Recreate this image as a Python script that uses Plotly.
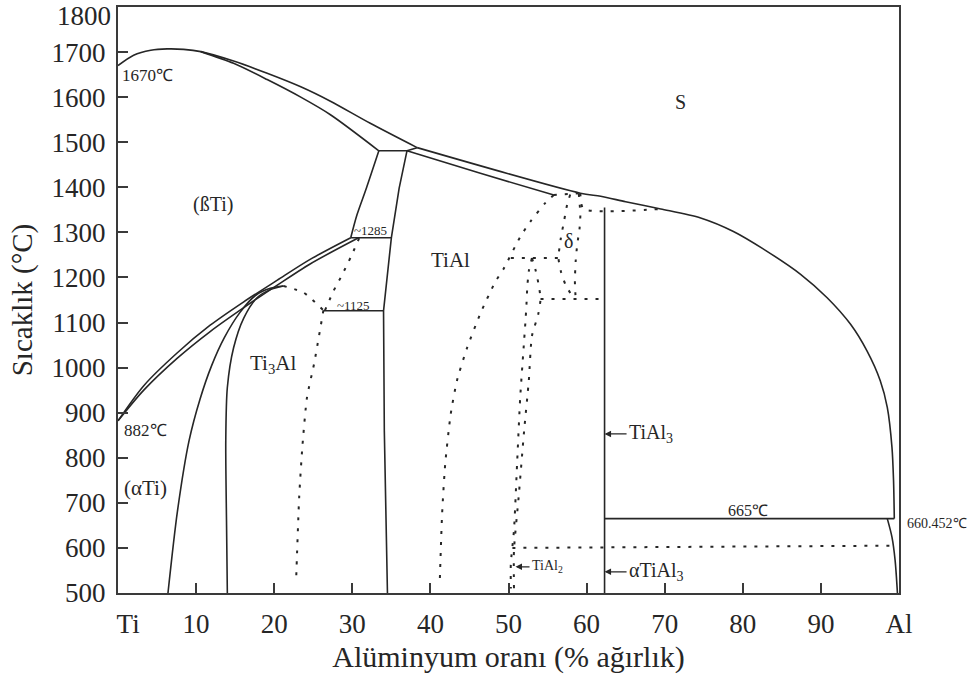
import plotly.graph_objects as go

# ---------------- data (wt.% Al, temperature °C) ----------------
x_tickvals = [0, 10, 20, 30, 40, 50, 60, 70, 80, 90, 100]
x_ticktext = ["\u00a0\u00a0\u00a0Ti", "10", "20", "30", "40", "50", "60", "70", "80", "90", "Al"]
y_tickvals = [500, 600, 700, 800, 900, 1000, 1100, 1200, 1300, 1400, 1500, 1600, 1700, 1800]

# solid lines
liq_left_x = [0, 2.0, 4.2, 6.3, 8.4, 10.6, 14.8, 19.1, 23.4, 27.2, 32.3, 38.3]
liq_left_T = [1670, 1693, 1704, 1707, 1706, 1701, 1680, 1653, 1623, 1591, 1542, 1488]
sol_beta_x = [10.6, 14.8, 19.1, 23.4, 27.2, 33.4]
sol_beta_T = [1701, 1675, 1639, 1600, 1561, 1481]
peri_x = [33.4, 37.0, 38.3]
peri_T = [1481, 1481, 1488]
beta_left_x = [33.4, 31.8, 30.6, 29.8]
beta_left_T = [1481, 1398, 1339, 1288]
alpha_right_x = [37.0, 36.0, 35.0, 34.0, 34.1, 34.5]
alpha_right_T = [1481, 1398, 1288, 1126, 860, 500]
sol_alpha_x = [37.0, 46.4, 55.8]
sol_alpha_T = [1481, 1431, 1383]
liq_right_x = [38.3, 59.2, 61.8, 65.0, 69.5, 74.6, 78.8, 83.1, 87.4, 90.8, 93.8, 95.9, 97.6, 98.5, 99.1, 99.3, 99.4]
liq_right_T = [1488, 1387, 1380, 1368, 1352, 1332, 1302, 1258, 1207, 1155, 1096, 1037, 971, 912, 823, 750, 665]
transus_up_x = [0, 3.3, 7.6, 11.8, 16.1, 20.4, 24.6, 29.8]
transus_up_T = [882, 960, 1033, 1094, 1146, 1194, 1240, 1288]
transus_lo_x = [0, 3.3, 7.6, 11.8, 16.1, 20.4, 24.6, 30.8]
transus_lo_T = [882, 950, 1021, 1080, 1133, 1183, 1230, 1288]
ti3al_out_x = [6.4, 7.6, 9.1, 10.5, 12.0, 13.6, 15.6, 17.6, 19.5, 21.2]
ti3al_out_T = [500, 680, 838, 930, 1005, 1066, 1122, 1160, 1176, 1181]
ti3al_in_x = [14.0, 13.9, 13.8, 14.0, 14.8, 16.1, 17.8, 19.5, 21.2]
ti3al_in_T = [500, 650, 838, 956, 1044, 1110, 1155, 1173, 1181]
line1285_x = [29.8, 35.0]
line1285_T = [1288, 1288]
line1125_x = [26.3, 34.0]
line1125_T = [1126, 1126]
tial3_x = [62.3, 62.3]
tial3_T = [1355, 500]
line665_x = [62.3, 99.4]
line665_T = [665, 665]
al_solvus_x = [98.5, 99.1, 99.5, 99.8]
al_solvus_T = [665, 624, 573, 500]

# dotted lines
d_ti3al_top_x = [21.2, 23.8, 26.3]
d_ti3al_top_T = [1181, 1166, 1127]
d_ti3al_right_x = [26.3, 25.1, 24.2, 23.6, 23.2, 22.8]
d_ti3al_right_T = [1127, 1008, 934, 823, 713, 525]
d_alpha_x = [26.5, 27.6, 28.7, 29.8, 30.9]
d_alpha_T = [1127, 1170, 1206, 1245, 1288]
d_A_x = [55.8, 54.7, 52.8, 51.5, 49.4, 48.3, 46.4, 44.7, 43.4, 42.6, 41.9, 41.5, 41.2]
d_A_T = [1383, 1365, 1324, 1290, 1220, 1190, 1120, 1044, 971, 897, 787, 676, 525]
d_top_x = [55.8, 59.2]
d_top_T = [1383, 1387]
d_B_x = [57.9, 57.5, 57.1, 56.7, 56.4, 56.7, 57.3, 58.4]
d_B_T = [1384, 1361, 1324, 1287, 1243, 1214, 1184, 1152]
d_C_x = [59.0, 59.2, 59.1, 58.8, 58.6, 58.5, 58.6]
d_C_T = [1386, 1339, 1309, 1273, 1236, 1192, 1152]
d_1352_x = [59.2, 59.6, 69.5]
d_1352_T = [1387, 1352, 1352]
d_1243_x = [50.3, 56.4]
d_1243_T = [1243, 1243]
d_D_x = [53.0, 52.6, 52.4, 52.3, 52.2, 52.0, 51.5, 51.1, 50.7, 50.3, 50.3]
d_D_T = [1243, 1214, 1177, 1140, 1110, 1060, 934, 787, 639, 566, 510]
d_E_x = [53.0, 53.5, 53.9, 54.1, 53.8, 53.0, 52.6, 52.0, 51.3, 50.7, 50.7]
d_E_T = [1243, 1214, 1180, 1152, 1118, 1070, 971, 860, 713, 595, 510]
d_1152_x = [54.1, 62.3]
d_1152_T = [1152, 1152]
d_600_x = [50.5, 99.3]
d_600_T = [600, 605]

# ---------------- figure ----------------
INK = "#262626"
SERIF = "Liberation Serif"
fig = go.Figure()

solid = [
    (liq_left_x, liq_left_T, True), (sol_beta_x, sol_beta_T, True), (peri_x, peri_T, False),
    (beta_left_x, beta_left_T, True), (alpha_right_x, alpha_right_T, False),
    (sol_alpha_x, sol_alpha_T, False), (liq_right_x, liq_right_T, True),
    (transus_up_x, transus_up_T, True), (transus_lo_x, transus_lo_T, True),
    (ti3al_out_x, ti3al_out_T, True), (ti3al_in_x, ti3al_in_T, True),
    (line1285_x, line1285_T, False), (line1125_x, line1125_T, False),
    (tial3_x, tial3_T, False), (line665_x, line665_T, False),
    (al_solvus_x, al_solvus_T, True),
]
for xs, ys, smooth in solid:
    fig.add_trace(go.Scatter(x=xs, y=ys, mode="lines",
                             line=dict(color=INK, width=1.6,
                                       shape="spline" if smooth else "linear",
                                       smoothing=0.8),
                             hoverinfo="skip", showlegend=False))

dotted = [
    (d_ti3al_top_x, d_ti3al_top_T), (d_ti3al_right_x, d_ti3al_right_T),
    (d_alpha_x, d_alpha_T), (d_A_x, d_A_T), (d_top_x, d_top_T),
    (d_B_x, d_B_T), (d_C_x, d_C_T), (d_1352_x, d_1352_T), (d_1243_x, d_1243_T),
    (d_D_x, d_D_T), (d_E_x, d_E_T), (d_1152_x, d_1152_T), (d_600_x, d_600_T),
]
for xs, ys in dotted:
    fig.add_trace(go.Scatter(x=xs, y=ys, mode="lines",
                             line=dict(color=INK, width=2, dash="3px,8px",
                                       shape="spline", smoothing=0.6),
                             hoverinfo="skip", showlegend=False))


def label(x, y, text, size, xanchor="center", xref="x", yref="y"):
    fig.add_annotation(x=x, y=y, xref=xref, yref=yref, text=text, showarrow=False,
                       xanchor=xanchor, yanchor="middle",
                       font=dict(family=SERIF, size=size, color=INK))


label(0.3, 1647, "1670℃", 17, "left")
label(12.1, 1362, "(ßTi)", 20)
label(72.0, 1590, "S", 20)
label(42.6, 1238, "TiAl", 21)
label(57.7, 1282, "δ", 20)
label(30.0, 1304, "~1285", 13, "left")
label(27.8, 1138, "~1125", 13, "left")
label(19.8, 1008, "Ti<sub>3</sub>Al", 21)
label(0.5, 860, "882℃", 17, "left")
label(0.5, 734, "(αTi)", 21, "left")
label(80.7, 683, "665℃", 16)
label(1.008, 655, "660.452℃", 14, "left", xref="paper")


def arrow_label(x, y, text, size, ax):
    fig.add_annotation(x=x, y=y, xref="x", yref="y", text=text, showarrow=True,
                       arrowhead=2, arrowsize=1, arrowwidth=1.3, arrowcolor=INK,
                       ax=ax, ay=0, standoff=0, xanchor="left", yanchor="middle",
                       font=dict(family=SERIF, size=size, color=INK))


arrow_label(62.3, 853, "TiAl<sub>3</sub>", 20, 22)
arrow_label(62.3, 547, "αTiAl<sub>3</sub>", 20, 22)
arrow_label(50.9, 558, "TiAl<sub>2</sub>", 14, 14)

# top y tick label, drawn shifted down as in the reference
y_ticktext = [str(v) for v in y_tickvals[:-1]] + [""]
fig.add_annotation(x=0, y=1800, xref="paper", yref="y", text="1800", showarrow=False,
                   xanchor="right", yanchor="top", xshift=-5, yshift=8,
                   font=dict(family=SERIF, size=27, color=INK))

axis_common = dict(showgrid=False, zeroline=False, showline=True, linewidth=2,
                   linecolor="#3a3a3a", mirror=True, ticks="inside", ticklen=10,
                   tickwidth=1.5, tickcolor="#3a3a3a",
                   tickfont=dict(family=SERIF, size=27, color=INK))

fig.update_layout(
    width=969, height=679,
    margin=dict(l=118, r=70, t=5, b=86),
    paper_bgcolor="white", plot_bgcolor="white",
    font=dict(family=SERIF, color=INK),
    xaxis=dict(range=[0, 100], tickvals=x_tickvals, ticktext=x_ticktext,
               ticklabelstandoff=6,
               title=dict(text="Alüminyum oranı (% ağırlık)", standoff=8,
                          font=dict(family=SERIF, size=30, color=INK)),
               **axis_common),
    yaxis=dict(range=[500, 1800], tickvals=y_tickvals, ticktext=y_ticktext,
               ticklabelstandoff=5,
               title=dict(text="Sıcaklık (°C)", standoff=10,
                          font=dict(family=SERIF, size=29, color=INK)),
               **axis_common),
)

fig.write_html("out.html")
